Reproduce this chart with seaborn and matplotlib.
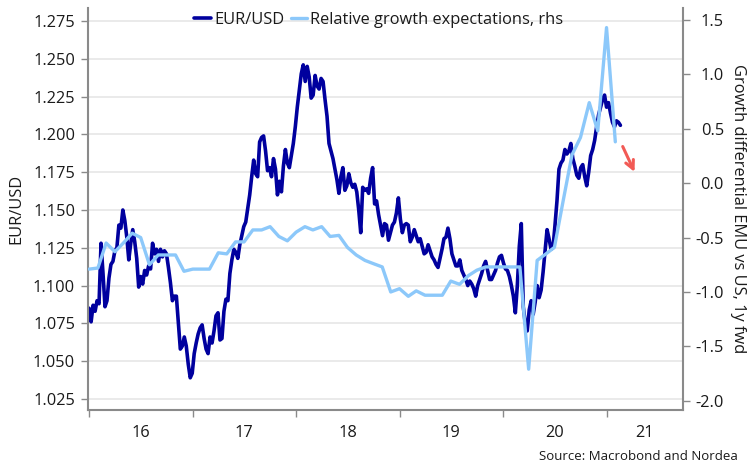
import matplotlib
matplotlib.use("Agg")
import matplotlib.pyplot as plt
import seaborn as sns
import pandas as pd
import numpy as np

# ---------------- data ----------------
# EUR/USD, weekly observations starting 2016-01-01 (left axis)
eurusd = [
    1.085, 1.076, 1.087, 1.083, 1.090, 1.088, 1.128, 1.108, 1.086, 1.090,
    1.105, 1.114, 1.116, 1.123, 1.125, 1.140, 1.138, 1.150, 1.143, 1.132,
    1.117, 1.128, 1.137, 1.129, 1.118, 1.099, 1.106, 1.101, 1.110, 1.107,
    1.113, 1.111, 1.128, 1.121, 1.124, 1.116, 1.124, 1.119, 1.123, 1.121,
    1.112, 1.102, 1.090, 1.093, 1.093, 1.075, 1.058, 1.060, 1.066, 1.060,
    1.048, 1.039, 1.042, 1.055, 1.062, 1.068, 1.072, 1.074, 1.065, 1.058,
    1.055, 1.066, 1.062, 1.070, 1.080, 1.082, 1.064, 1.065, 1.083, 1.091,
    1.090, 1.108, 1.117, 1.124, 1.122, 1.118, 1.127, 1.133, 1.139, 1.142,
    1.151, 1.160, 1.172, 1.183, 1.174, 1.172, 1.195, 1.198, 1.199, 1.189,
    1.176, 1.178, 1.172, 1.184, 1.177, 1.160, 1.169, 1.162, 1.179, 1.190,
    1.181, 1.178, 1.186, 1.194, 1.205, 1.218, 1.229, 1.240, 1.246, 1.235,
    1.245, 1.238, 1.224, 1.226, 1.239, 1.232, 1.230, 1.237, 1.235, 1.223,
    1.212, 1.194, 1.189, 1.184, 1.177, 1.170, 1.161, 1.172, 1.178, 1.163,
    1.166, 1.174, 1.168, 1.165, 1.167, 1.162, 1.150, 1.135, 1.165, 1.163,
    1.164, 1.161, 1.171, 1.178, 1.154, 1.156, 1.147, 1.140, 1.133, 1.141,
    1.140, 1.130, 1.135, 1.140, 1.142, 1.148, 1.158, 1.144, 1.135, 1.140,
    1.141, 1.140, 1.129, 1.132, 1.137, 1.133, 1.129, 1.131, 1.126, 1.121,
    1.122, 1.127, 1.123, 1.119, 1.117, 1.114, 1.112, 1.118, 1.124, 1.131,
    1.132, 1.138, 1.131, 1.121, 1.117, 1.113, 1.113, 1.117, 1.110, 1.107,
    1.104, 1.100, 1.103, 1.101, 1.098, 1.093, 1.100, 1.104, 1.108, 1.113,
    1.116, 1.110, 1.104, 1.104, 1.107, 1.110, 1.115, 1.119, 1.120, 1.115,
    1.111, 1.110, 1.106, 1.100, 1.093, 1.082, 1.100, 1.126, 1.141, 1.086,
    1.075, 1.070, 1.084, 1.090, 1.081, 1.089, 1.100, 1.092, 1.097, 1.109,
    1.123, 1.137, 1.131, 1.124, 1.125, 1.140, 1.156, 1.177, 1.181, 1.183,
    1.190, 1.187, 1.189, 1.194, 1.184, 1.179, 1.173, 1.171, 1.178, 1.180,
    1.172, 1.166, 1.175, 1.186, 1.190, 1.196, 1.205, 1.213, 1.218, 1.223,
    1.226, 1.218, 1.221, 1.214, 1.208, 1.205, 1.209, 1.208, 1.206,
]
eurusd_start = "2016-01-01"

# Relative growth expectations (EMU vs US, 1y fwd), monthly from Jan 2016 (right axis)
growth = [
    -0.79, -0.78, -0.55, -0.63, -0.55, -0.46, -0.50, -0.75, -0.66, -0.66,
    -0.66, -0.81, -0.79, -0.79, -0.79, -0.64, -0.65, -0.54, -0.54, -0.43,
    -0.43, -0.40, -0.49, -0.53, -0.45, -0.40, -0.43, -0.40, -0.49, -0.48,
    -0.59, -0.66, -0.71, -0.74, -0.77, -1.00, -0.97, -1.04, -0.99, -1.03,
    -1.03, -1.03, -0.90, -0.93, -0.85, -0.80, -0.77, -0.77, -0.77, -0.77,
    -0.77, -1.71, -0.71, -0.65, -0.59, -0.16, 0.26, 0.42, 0.74, 0.48,
    1.43, 0.38,
]
growth_start = "2016-01-01"

left_ticks = [1.025, 1.050, 1.075, 1.100, 1.125, 1.150, 1.175, 1.200, 1.225, 1.250, 1.275]
right_ticks = [-2.0, -1.5, -1.0, -0.5, 0.0, 0.5, 1.0, 1.5]
year_starts = ["2016-01-01", "2017-01-01", "2018-01-01", "2019-01-01", "2020-01-01", "2021-01-01"]
year_label_pos = ["2016-07-02", "2017-07-02", "2018-07-02", "2019-07-02", "2020-07-02", "2021-05-15"]
year_labels = ["16", "17", "18", "19", "20", "21"]
arrow_from = ("2021-02-23", 0.36)
arrow_to = ("2021-04-14", 0.08)

# ---------------- style ----------------
DARK = "#00009E"
LIGHT = "#8CC8FA"
RED = "#F25A55"
SPINE = "#8A8A8A"
TXT = "#1A1A1A"

sns.set_theme(style="white")
plt.rcParams["font.family"] = ["Open Sans", "DejaVu Sans"]
plt.rcParams["axes.unicode_minus"] = False

df_fx = pd.DataFrame({"date": pd.date_range(eurusd_start, periods=len(eurusd), freq="7D"),
                      "value": eurusd})
df_gr = pd.DataFrame({"date": pd.date_range(growth_start, periods=len(growth), freq="MS"),
                      "value": growth})

fig = plt.figure(figsize=(7.54, 4.75), dpi=100)
ax = fig.add_axes([88 / 754, 1 - 410 / 475, (683 - 88) / 754, (410 - 8) / 475])

sns.lineplot(data=df_fx, x="date", y="value", ax=ax, color=DARK, linewidth=2.6,
             label="EUR/USD", legend=False)
ax2 = ax.twinx()
sns.lineplot(data=df_gr, x="date", y="value", ax=ax2, color=LIGHT, linewidth=2.4,
             label="Relative growth expectations, rhs", legend=False)

# axes limits
ax.set_xlim(pd.Timestamp("2015-12-28"), pd.Timestamp("2021-09-28"))
ax.set_ylim(1.0177, 1.2836)
ax2.set_ylim(-2.085, 1.610)

# y ticks
ax.set_yticks(left_ticks, [f"{v:.3f}" for v in left_ticks])
ax2.set_yticks(right_ticks, [f"{v:.1f}" for v in right_ticks], ha="right")
ax.tick_params(axis="y", left=True, length=5, width=1, color=SPINE, labelsize=11.8,
               pad=4.3, labelcolor=TXT)
ax2.tick_params(axis="y", right=True, length=5, width=1, color=SPINE, labelsize=11.8,
                pad=24.5, labelcolor=TXT)

# x ticks: marks at year starts, labels centred in the years
ax.set_xticks(pd.to_datetime(year_starts), [""] * len(year_starts))
ax.set_xticks(pd.to_datetime(year_label_pos), year_labels, minor=True)
ax.tick_params(axis="x", which="major", bottom=True, length=5, width=1, color=SPINE)
ax.tick_params(axis="x", which="minor", bottom=True, length=0, labelsize=11.8,
               pad=11, labelcolor=TXT)
ax.set_xlabel("")

# grid
ax.yaxis.grid(True, color="#E6E6E6", linewidth=1.2)
ax.xaxis.grid(False)
ax.set_axisbelow(True)

# spines
for s in ["top", "right"]:
    ax.spines[s].set_visible(False)
for s in ["left", "bottom"]:
    ax.spines[s].set_color(SPINE)
    ax.spines[s].set_linewidth(1.5)
for s in ["top", "left", "bottom"]:
    ax2.spines[s].set_visible(False)
ax2.spines["right"].set_color(SPINE)
ax2.spines["right"].set_linewidth(1.5)

# axis labels
ax.set_ylabel("EUR/USD", fontsize=11.8, color=TXT, labelpad=6)
ax2.set_ylabel("Growth differential EMU vs US, 1y fwd", fontsize=11.8, color=TXT,
               rotation=270, va="bottom", labelpad=4)

# red arrow
ax2.annotate("", xy=(pd.Timestamp(arrow_to[0]), arrow_to[1]),
             xytext=(pd.Timestamp(arrow_from[0]), arrow_from[1]),
             arrowprops=dict(arrowstyle="->", color=RED, lw=2.2, mutation_scale=15))

# legend
h1, l1 = ax.get_legend_handles_labels()
h2, l2 = ax2.get_legend_handles_labels()
fig.legend(h1 + h2, l1 + l2, loc="center", bbox_to_anchor=(379 / 754, 1 - 20 / 475),
           ncol=2, frameon=False, fontsize=11.8, handlelength=1.0, handletextpad=0.2,
           columnspacing=0.4, labelcolor=TXT)

fig.text(738 / 754, 1 - 456 / 475, "Source: Macrobond and Nordea", ha="right",
         va="center", fontsize=9.5, color=TXT)

fig.savefig("out.png", dpi=100)
